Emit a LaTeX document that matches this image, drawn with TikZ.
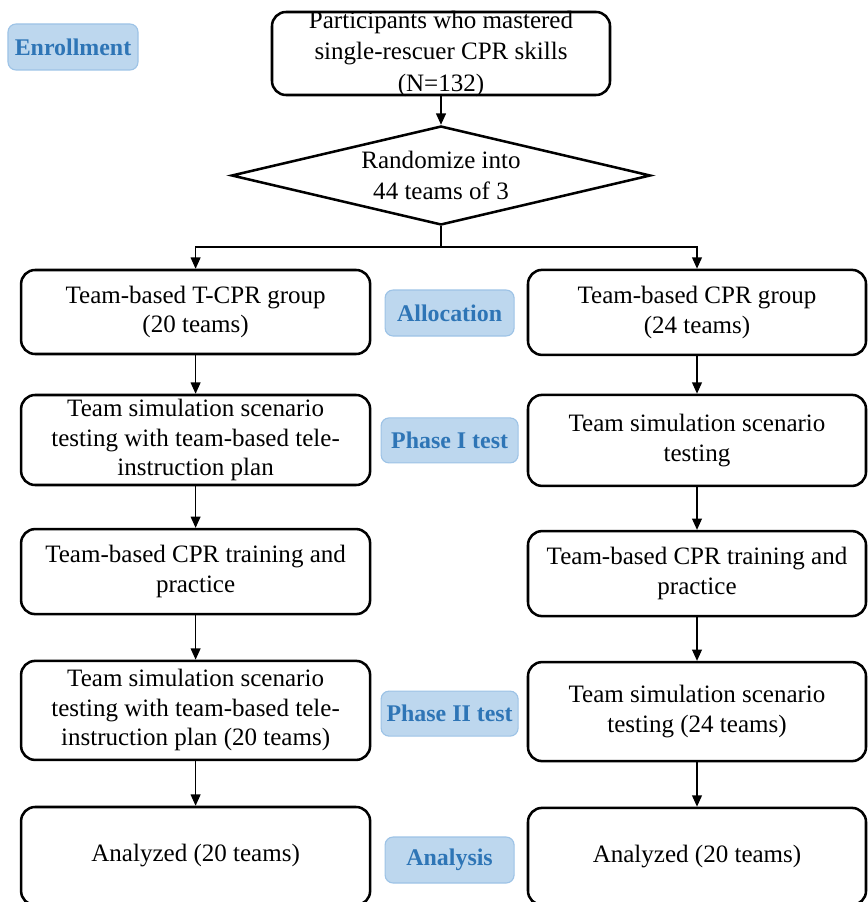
\documentclass[tikz,border=0pt]{standalone}
\usepackage{fontspec}
\setmainfont{Liberation Serif}
\usepackage{xcolor}
\usepackage{tikz}
\usetikzlibrary{arrows.meta, positioning, shapes.geometric}

\definecolor{stagefill}{HTML}{BDD7EE}
\definecolor{stagedraw}{HTML}{9DC3E6}
\definecolor{stagetext}{HTML}{2E75B6}

\begin{document}
\begin{tikzpicture}[
  arrow/.style={-{Triangle[length=8pt,width=7pt]}, line width=0.9pt},
  block/.style={draw, rectangle, rounded corners=0.35cm, line width=1.8pt, align=center, inner sep=0.5pt, font=\fontsize{17.8}{21}\selectfont},
  tcpr_block/.style={block, minimum width=8.725cm},
  cpr_block/.style={block, minimum width=8.45cm},
  stage/.style={draw=stagedraw, fill=stagefill, text=stagetext, rounded corners=0.2cm, line width=0.8pt, inner sep=0pt, font=\fontsize{17}{20}\selectfont\bfseries}
]

  \useasboundingbox (0,0) rectangle (21.675,-22.55);

  % Enrollment and randomization
  \node (start) [block, inner ysep=-1.5pt, minimum width=8.45cm, minimum height=2.075cm, font=\fontsize{17.8}{22.4}\selectfont] at (11.025,-1.3375) {Participants who mastered\\single-rescuer CPR skills\\(N=132)};
  \node (rand) [draw, diamond, aspect=4.2, line width=1.8pt, inner sep=0pt, align=center, font=\fontsize{17.8}{21.5}\selectfont, minimum width=10.475cm, minimum height=2.475cm] at (11.025,-4.3875) {Randomize into\\44 teams of 3};
  \coordinate (split) at (11.025,-6.175);

  % T-CPR column
  \node (tcpr1) [tcpr_block, minimum height=2.1cm] at (4.89,-7.8) {Team-based T-CPR group\\(20 teams)};
  \node (tcpr2) [tcpr_block, minimum height=2.25cm] at (4.89,-11.0) {Team simulation scenario\\testing with team-based tele-\\instruction plan};
  \node (tcpr3) [tcpr_block, minimum height=2.125cm] at (4.89,-14.29) {Team-based CPR training and\\practice};
  \node (tcpr4) [tcpr_block, minimum height=2.475cm] at (4.89,-17.76) {Team simulation scenario\\testing with team-based tele-\\instruction plan (20 teams)};
  \node (tcpr5) [tcpr_block, minimum height=2.45cm] at (4.89,-21.4) {Analyzed (20 teams)};

  % CPR column
  \node (cpr1) [cpr_block, minimum height=2.125cm] at (17.425,-7.81) {Team-based CPR group\\(24 teams)};
  \node (cpr2) [cpr_block, minimum height=2.275cm] at (17.425,-11.01) {Team simulation scenario\\testing};
  \node (cpr3) [cpr_block, minimum height=2.125cm] at (17.425,-14.34) {Team-based CPR training and\\practice};
  \node (cpr4) [cpr_block, minimum height=2.475cm] at (17.425,-17.79) {Team simulation scenario\\testing (24 teams)};
  \node (cpr5) [cpr_block, minimum height=2.425cm] at (17.425,-21.41) {Analyzed (20 teams)};

  % Stage labels
  \node (enroll) [stage, minimum width=3.25cm, minimum height=1.15cm] at (1.825,-1.175) {Enrollment};
  \node (alloc) [stage, minimum width=3.225cm, minimum height=1.15cm] at (11.24,-7.825) {Allocation};
  \node (phase1) [stage, minimum width=3.425cm, minimum height=1.125cm] at (11.24,-11.01) {Phase I test};
  \node (phase2) [stage, minimum width=3.425cm, minimum height=1.125cm] at (11.24,-17.84) {Phase II test};
  \node (analysis) [stage, minimum width=3.225cm, minimum height=1.15cm] at (11.24,-21.5) {Analysis};

  % Arrows
  \draw[arrow] (start) -- (rand);
  \draw[line width=0.9pt] (rand.south) -- (split);
  \draw[arrow] (split) -| (tcpr1.north);
  \draw[arrow] (split) -| (cpr1.north);
  \draw[arrow] (tcpr1) -- (tcpr2);
  \draw[arrow] (tcpr2) -- (tcpr3);
  \draw[arrow] (tcpr3) -- (tcpr4);
  \draw[arrow] (tcpr4) -- (tcpr5);
  \draw[arrow] (cpr1) -- (cpr2);
  \draw[arrow] (cpr2) -- (cpr3);
  \draw[arrow] (cpr3) -- (cpr4);
  \draw[arrow] (cpr4) -- (cpr5);

\end{tikzpicture}
\end{document}
